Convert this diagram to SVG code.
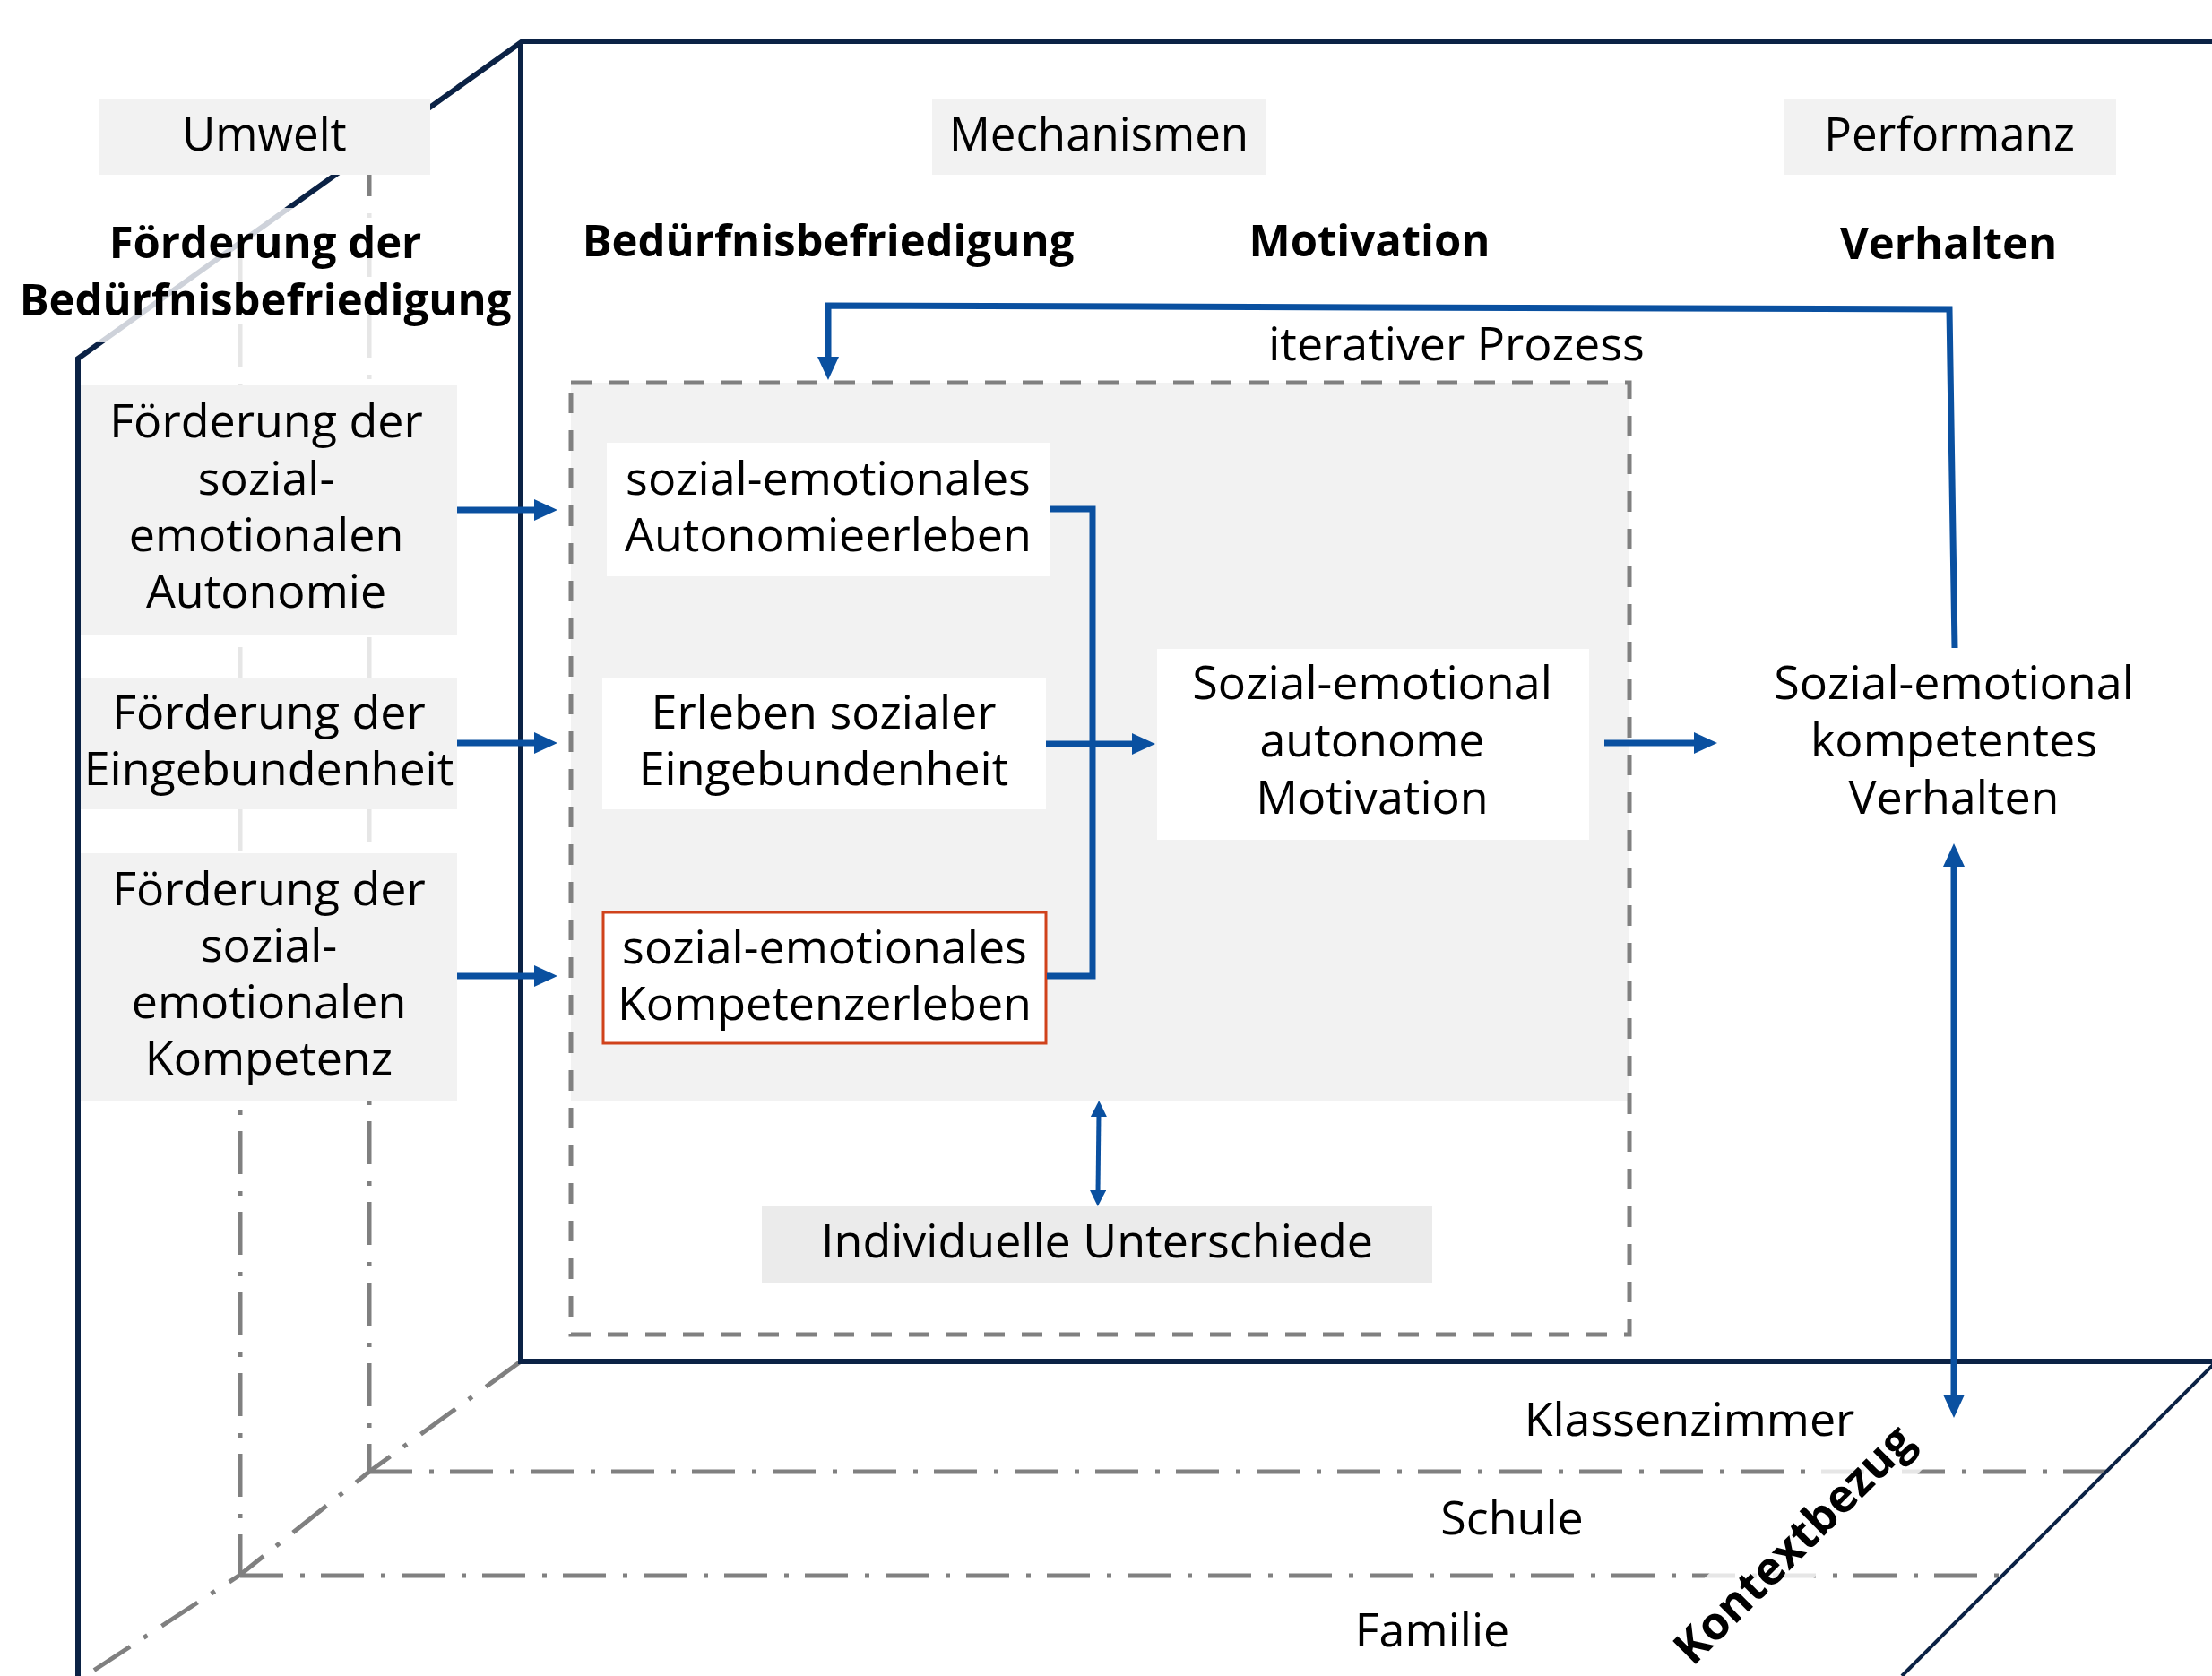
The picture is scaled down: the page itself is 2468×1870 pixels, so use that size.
<svg xmlns="http://www.w3.org/2000/svg" width="2468" height="1870" viewBox="0 0 2468 1870">
<style>
text{font-family:"Open Sans","Noto Sans","DejaVu Sans",sans-serif;fill:#000;text-anchor:middle}
.t{font-size:52px}
.h{font-size:51px}
.b{font-size:49px;font-weight:700}
.navy{fill:none;stroke:#0b2245;stroke-width:6}
.dd{fill:none;stroke:#808080;stroke-width:5;stroke-dasharray:48 19 5 18}
.blue{fill:none;stroke:#0a50a0;stroke-width:7}
.hdr{fill:#f2f2f2}
.wb{fill:#fff}
</style>
<defs>
<marker id="ah" markerUnits="userSpaceOnUse" markerWidth="26" markerHeight="24" viewBox="0 0 26 24" refX="4" refY="12" orient="auto-start-reverse"><path d="M0,0 L26,12 L0,24 z" fill="#0a50a0"/></marker>
<marker id="as" markerUnits="userSpaceOnUse" markerWidth="18" markerHeight="18" viewBox="0 0 18 18" refX="3" refY="9" orient="auto-start-reverse"><path d="M0,0 L18,9 L0,18 z" fill="#0a50a0"/></marker>
</defs>

<g id="perspective-lines">
<polyline class="dd" points="581,1519 412,1642 268,1757 95,1870"/>
<line class="dd" x1="412" y1="171" x2="412" y2="1642"/>
<line class="dd" x1="268" y1="272" x2="268" y2="1757"/>
<line class="dd" x1="412" y1="1642" x2="2354" y2="1642"/>
<line class="dd" x1="268" y1="1758" x2="2240" y2="1758"/>
<polyline class="navy" points="87,1870 87,400 583,46 2468,46"/>
<polyline class="navy" points="581,46 581,1519 2468,1519"/>
<line class="navy" style="stroke-width:4" x1="2472" y1="1520" x2="2122" y2="1870"/>
</g>

<g id="overlays" fill="#fff" fill-opacity="0.8">
<rect x="10" y="232" width="565" height="150"/>
<rect x="120" y="382" width="440" height="846"/>
<rect x="-190" y="-42" width="380" height="86" transform="translate(2000,1722) rotate(-45)"/>
</g>

<g id="iterative-box">
<rect x="637" y="427" width="1181" height="801" fill="#f2f2f2"/>
<rect x="637" y="427" width="1181" height="1062" fill="none" stroke="#808080" stroke-width="5" stroke-dasharray="23 19"/>
<text class="t" x="1625" y="402">iterativer Prozess</text>
</g>

<g id="header-umwelt"><rect class="hdr" x="110" y="110" width="370" height="85"/><text class="h" x="295" y="168">Umwelt</text></g>
<g id="header-mechanismen"><rect class="hdr" x="1040" y="110" width="372" height="85"/><text class="h" x="1226" y="168">Mechanismen</text></g>
<g id="header-performanz"><rect class="hdr" x="1990" y="110" width="371" height="85"/><text class="h" x="2175" y="168">Performanz</text></g>

<g id="title-foerderung"><text class="b" x="296" y="288">Förderung der</text><text class="b" x="296" y="352">Bedürfnisbefriedigung</text></g>
<g id="title-beduerfnis"><text class="b" x="924" y="286">Bedürfnisbefriedigung</text></g>
<g id="title-motivation"><text class="b" x="1528" y="286">Motivation</text></g>
<g id="title-verhalten"><text class="b" x="2174" y="289">Verhalten</text></g>

<g id="node-f-autonomie"><rect class="hdr" x="90" y="430" width="420" height="278"/>
<text class="t" x="297" y="488">Förderung der</text><text class="t" x="297" y="552">sozial-</text><text class="t" x="297" y="615">emotionalen</text><text class="t" x="297" y="678">Autonomie</text></g>
<g id="node-f-eingebundenheit"><rect class="hdr" x="90" y="756" width="420" height="147"/>
<text class="t" x="300" y="813">Förderung der</text><text class="t" x="300" y="876">Eingebundenheit</text></g>
<g id="node-f-kompetenz"><rect class="hdr" x="90" y="952" width="420" height="276"/>
<text class="t" x="300" y="1010">Förderung der</text><text class="t" x="300" y="1073">sozial-</text><text class="t" x="300" y="1136">emotionalen</text><text class="t" x="300" y="1199">Kompetenz</text></g>

<g id="node-autonomieerleben"><rect class="wb" x="677" y="494" width="495" height="149"/>
<text class="t" x="924" y="552">sozial-emotionales</text><text class="t" x="924" y="615">Autonomieerleben</text></g>
<g id="node-eingebundenheit"><rect class="wb" x="672" y="756" width="495" height="147"/>
<text class="t" x="919" y="813">Erleben sozialer</text><text class="t" x="919" y="876">Eingebundenheit</text></g>
<g id="node-kompetenzerleben"><rect x="673" y="1018" width="494" height="146" fill="#fff" stroke="#d0421b" stroke-width="3"/>
<text class="t" x="920" y="1075">sozial-emotionales</text><text class="t" x="920" y="1138">Kompetenzerleben</text></g>
<g id="node-motivation"><rect class="wb" x="1291" y="724" width="482" height="213"/>
<text class="t" x="1531" y="780">Sozial-emotional</text><text class="t" x="1531" y="844">autonome</text><text class="t" x="1531" y="908">Motivation</text></g>
<g id="node-verhalten">
<text class="t" x="2180" y="780">Sozial-emotional</text><text class="t" x="2180" y="844">kompetentes</text><text class="t" x="2180" y="908">Verhalten</text></g>
<g id="node-individuell"><rect x="850" y="1346" width="748" height="85" fill="#ebebeb"/>
<text class="t" x="1224" y="1403">Individuelle Unterschiede</text></g>

<g id="context-labels">
<text class="t" x="1885" y="1602">Klassenzimmer</text>
<text class="t" x="1687" y="1712">Schule</text>
<text class="t" x="1598" y="1837">Familie</text>
<text transform="translate(2000,1722) rotate(-45)" x="0" y="19" style="font-size:51px;font-weight:700">Kontextbezug</text>
</g>

<g id="connectors">
<line class="blue" x1="510" y1="569" x2="600" y2="569" marker-end="url(#ah)"/>
<line class="blue" x1="510" y1="829" x2="600" y2="829" marker-end="url(#ah)"/>
<line class="blue" x1="510" y1="1089" x2="600" y2="1089" marker-end="url(#ah)"/>
<path class="blue" d="M1172,568 H1219 V1089 H1168"/>
<line class="blue" x1="1167" y1="830" x2="1267" y2="830" marker-end="url(#ah)"/>
<line class="blue" x1="1790" y1="829" x2="1894" y2="829" marker-end="url(#ah)"/>
<path class="blue" d="M2181,723 L2175,345 L924,341 L924,402" marker-end="url(#ah)"/>
<line class="blue" x1="2180" y1="963" x2="2180" y2="1560" marker-start="url(#ah)" marker-end="url(#ah)"/>
<line class="blue" style="stroke-width:5" x1="1226" y1="1243" x2="1225" y2="1331" marker-start="url(#as)" marker-end="url(#as)"/>
</g>
</svg>
